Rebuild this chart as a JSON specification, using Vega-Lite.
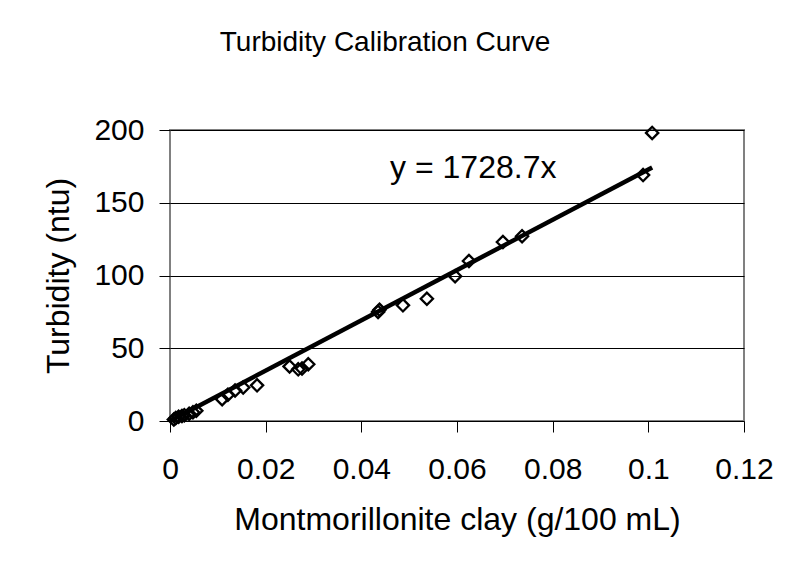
{
  "$schema": "https://vega.github.io/schema/vega-lite/v6.json",
  "width": 574,
  "height": 291,
  "autosize": {"type": "none"},
  "padding": {"left": 170, "top": 130, "right": 47, "bottom": 150},
  "background": "white",
  "config": {
    "font": "Liberation Sans",
    "view": {"stroke": "#808080", "strokeWidth": 2},
    "axis": {
      "labelFont": "Liberation Sans",
      "titleFont": "Liberation Sans",
      "labelColor": "black",
      "titleColor": "black",
      "titleFontWeight": "normal",
      "labelFontSize": 30,
      "titleFontSize": 32,
      "tickColor": "black",
      "tickWidth": 1,
      "tickSize": 11,
      "domain": false,
      "labelFlush": false,
      "labelOverlap": false
    }
  },
  "title": {
    "text": "Turbidity Calibration Curve",
    "font": "Liberation Sans",
    "fontSize": 28,
    "fontWeight": "normal",
    "color": "black",
    "frame": "group",
    "anchor": "middle",
    "baseline": "alphabetic",
    "offset": 36,
    "dx": -72
  },
  "datasets": {
    "points": [
      {"clay": 0.0008, "turbidity": 1},
      {"clay": 0.0012, "turbidity": 2},
      {"clay": 0.0018, "turbidity": 3},
      {"clay": 0.0025, "turbidity": 3.5},
      {"clay": 0.003, "turbidity": 4},
      {"clay": 0.004, "turbidity": 5},
      {"clay": 0.0048, "turbidity": 6},
      {"clay": 0.0055, "turbidity": 7},
      {"clay": 0.0109, "turbidity": 15},
      {"clay": 0.0121, "turbidity": 18},
      {"clay": 0.0136, "turbidity": 21},
      {"clay": 0.0153, "turbidity": 23},
      {"clay": 0.0182, "turbidity": 24.5},
      {"clay": 0.025, "turbidity": 37.5},
      {"clay": 0.0268, "turbidity": 35.5},
      {"clay": 0.0276, "turbidity": 36},
      {"clay": 0.0289, "turbidity": 39},
      {"clay": 0.0435, "turbidity": 75},
      {"clay": 0.0438, "turbidity": 76.5},
      {"clay": 0.0487, "turbidity": 79.5},
      {"clay": 0.0537, "turbidity": 84},
      {"clay": 0.0596, "turbidity": 99.5},
      {"clay": 0.0625, "turbidity": 110},
      {"clay": 0.0696, "turbidity": 123},
      {"clay": 0.0736, "turbidity": 127},
      {"clay": 0.0989, "turbidity": 169},
      {"clay": 0.1008, "turbidity": 198}
    ],
    "trend": [
      {"clay": 0, "turbidity": 0},
      {"clay": 0.1008, "turbidity": 174.25}
    ],
    "note": [
      {"clay": 0.0634, "turbidity": 167, "label": "y = 1728.7x"}
    ]
  },
  "layer": [
    {
      "data": {"name": "trend"},
      "mark": {"type": "line", "color": "black", "strokeWidth": 4.5},
      "encoding": {
        "x": {"field": "clay", "type": "quantitative"},
        "y": {"field": "turbidity", "type": "quantitative"}
      }
    },
    {
      "data": {"name": "points"},
      "mark": {"type": "point", "shape": "diamond", "filled": false, "stroke": "black", "strokeWidth": 2.3, "size": 150, "opacity": 1},
      "encoding": {
        "x": {
          "field": "clay",
          "type": "quantitative",
          "scale": {"domain": [0, 0.12], "nice": false},
          "axis": {"values": [0, 0.02, 0.04, 0.06, 0.08, 0.1, 0.12], "format": "~g", "grid": false, "labelPadding": 22, "titlePadding": 20},
          "title": "Montmorillonite clay (g/100 mL)"
        },
        "y": {
          "field": "turbidity",
          "type": "quantitative",
          "scale": {"domain": [0, 200], "nice": false},
          "axis": {"values": [0, 50, 100, 150, 200], "grid": true, "gridColor": "black", "gridWidth": 1, "gridOpacity": 1, "labelPadding": 15, "titlePadding": 18},
          "title": "Turbidity (ntu)"
        }
      }
    },
    {
      "data": {"name": "note"},
      "mark": {"type": "text", "font": "Liberation Sans", "fontSize": 32, "align": "center", "baseline": "alphabetic", "color": "black"},
      "encoding": {
        "x": {"field": "clay", "type": "quantitative"},
        "y": {"field": "turbidity", "type": "quantitative"},
        "text": {"field": "label"}
      }
    }
  ]
}
